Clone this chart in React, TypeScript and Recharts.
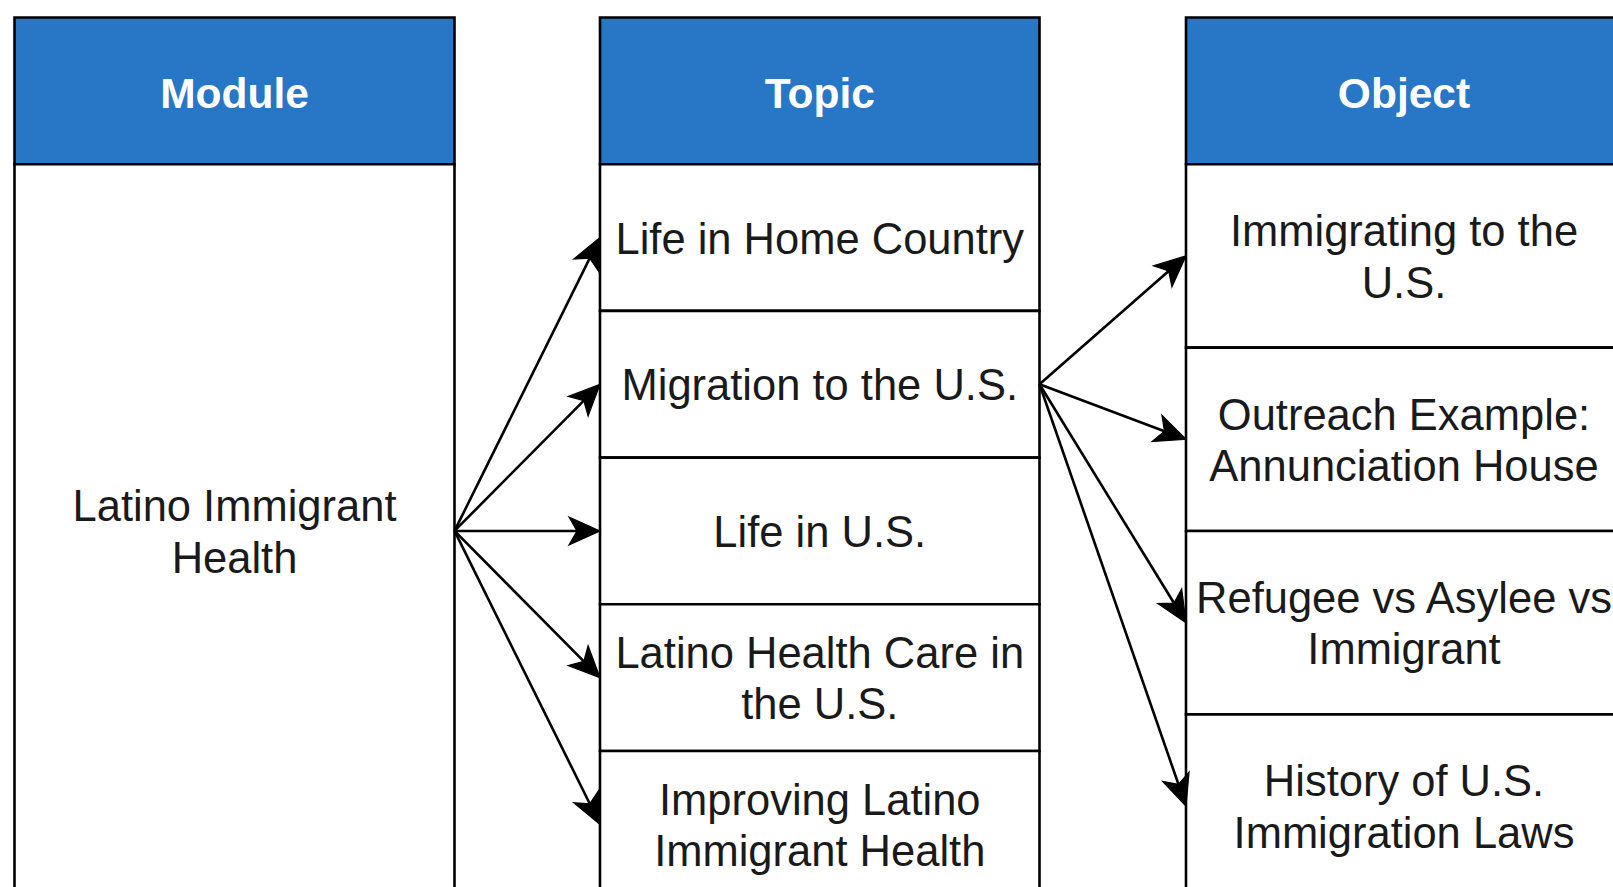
import React from "react";
import {
  ComposedChart,
  XAxis,
  YAxis,
  ReferenceArea,
  ReferenceLine,
  Scatter,
} from "recharts";

// ---------------- data ----------------
const columnTitles = ["Module", "Topic", "Object"];
const moduleLabels = [["Latino Immigrant", "Health"]];
const topicLabels = [
  ["Life in Home Country"],
  ["Migration to the U.S."],
  ["Life in U.S."],
  ["Latino Health Care in", "the U.S."],
  ["Improving Latino", "Immigrant Health"],
];
const objectLabels = [
  ["Immigrating to the", "U.S."],
  ["Outreach Example:", "Annunciation House"],
  ["Refugee vs Asylee vs", "Immigrant"],
  ["History of U.S.", "Immigration Laws"],
];
// links: [source index, target index]
const moduleTopicLinks = [
  [0, 0],
  [0, 1],
  [0, 2],
  [0, 3],
  [0, 4],
];
const topicObjectLinks = [
  [1, 0],
  [1, 1],
  [1, 2],
  [1, 3],
];

// ---------------- layout / style ----------------
const W = 1613;
const H = 887;
const TOP = 17.5;
const ROW = 146.7;
const BODY_ROWS = 5;
const COL_X = [14.5, 600, 1186];
const COL_W = [440, 439.5, 436];
const HEADER_BLUE = "#2876C6";
const FONT = "'Liberation Sans', Arial, Helvetica, sans-serif";
const BODY_SIZE = 43.5;
const HEAD_SIZE = 42.5;
const LINE_H = 51.5;
const BORDER = 2.6;
const ARROW_W = 2.6;
const HEAD_L = 31;
const HEAD_HW = 14;
const HEAD_NOTCH = 23;

type Cell = { x1: number; x2: number; y1: number; y2: number };

const cellsFor = (col: number, count: number): Cell[] => {
  const top = TOP + ROW;
  const h = (ROW * BODY_ROWS) / count;
  return Array.from({ length: count }, (_, i) => ({
    x1: COL_X[col],
    x2: COL_X[col] + COL_W[col],
    y1: top + h * i,
    y2: top + h * (i + 1),
  }));
};

const headerCell = (col: number): Cell => ({
  x1: COL_X[col],
  x2: COL_X[col] + COL_W[col],
  y1: TOP,
  y2: TOP + ROW,
});

const columns = [moduleLabels, topicLabels, objectLabels];
const columnCells = columns.map((labels, c) => cellsFor(c, labels.length));

const makeLabel =
  (lines: string[], size: number, color: string, weight: string, shift: number) =>
  (props: any) => {
    const vb = props.viewBox || {};
    const cx = vb.x + vb.width / 2;
    const cy = vb.y + vb.height / 2;
    const n = lines.length;
    return (
      <text
        textAnchor="middle"
        fontFamily={FONT}
        fontSize={size}
        fontWeight={weight}
        fill={color}
      >
        {lines.map((l, i) => (
          <tspan
            key={i}
            x={cx}
            y={cy + (i - (n - 1) / 2) * LINE_H + size * shift}
          >
            {l}
          </tspan>
        ))}
      </text>
    );
  };

type Arrow = { sx: number; sy: number; tx: number; ty: number; ex: number; ey: number; x: number; y: number };

const buildArrows = (srcCol: number, dstCol: number, links: number[][]): Arrow[] =>
  links.map(([s, t]) => {
    const sc = columnCells[srcCol][s];
    const tc = columnCells[dstCol][t];
    const sx = sc.x2;
    const sy = (sc.y1 + sc.y2) / 2;
    const tx = tc.x1;
    const ty = (tc.y1 + tc.y2) / 2;
    const len = Math.hypot(tx - sx, ty - sy);
    const ex = tx - ((tx - sx) / len) * HEAD_NOTCH;
    const ey = ty - ((ty - sy) / len) * HEAD_NOTCH;
    return { sx, sy, tx, ty, ex, ey, x: tx, y: ty };
  });

const arrows = [
  ...buildArrows(0, 1, moduleTopicLinks),
  ...buildArrows(1, 2, topicObjectLinks),
];

const ArrowHead = (props: any) => {
  const { cx, cy, payload } = props;
  const ang = (Math.atan2(payload.ty - payload.sy, payload.tx - payload.sx) * 180) / Math.PI;
  return (
    <path
      d={`M0,0 L${-HEAD_L},${-HEAD_HW} L${-HEAD_NOTCH},0 L${-HEAD_L},${HEAD_HW} Z`}
      transform={`translate(${cx},${cy}) rotate(${ang})`}
      fill="#000"
      stroke="#000"
      strokeWidth={1.2}
    />
  );
};

export default function App() {
  return (
    <div
      style={{
        position: "absolute",
        left: 0,
        top: 0,
        width: W,
        height: H,
        background: "#fff",
        overflow: "hidden",
      }}
    >
      <ComposedChart
        width={W}
        height={H}
        margin={{ top: 0, right: 0, bottom: 0, left: 0 }}
        data={arrows}
      >
        <XAxis type="number" dataKey="x" domain={[0, W]} hide allowDataOverflow />
        <YAxis type="number" dataKey="y" domain={[0, H]} reversed hide allowDataOverflow />

        {columnTitles.map((t, c) => {
          const r = headerCell(c);
          return (
            <ReferenceArea
              key={`h${c}`}
              x1={r.x1}
              x2={r.x2}
              y1={r.y1}
              y2={r.y2}
              fill={HEADER_BLUE}
              fillOpacity={1}
              stroke="#000"
              strokeWidth={BORDER}
              ifOverflow="visible"
              label={makeLabel([t], HEAD_SIZE, "#ffffff", "bold", 0.4)}
            />
          );
        })}

        {columns.map((labels, c) =>
          labels.map((lines, i) => {
            const r = columnCells[c][i];
            return (
              <ReferenceArea
                key={`b${c}-${i}`}
                x1={r.x1}
                x2={r.x2}
                y1={r.y1}
                y2={r.y2}
                fill="#ffffff"
                fillOpacity={1}
                stroke="#000"
                strokeWidth={BORDER}
                ifOverflow="visible"
                label={makeLabel(lines, BODY_SIZE, "#1a1a1a", "normal", 0.37)}
              />
            );
          })
        )}

        {arrows.map((a, i) => (
          <ReferenceLine
            key={`a${i}`}
            segment={[
              { x: a.sx, y: a.sy },
              { x: a.ex, y: a.ey },
            ]}
            stroke="#000"
            strokeWidth={ARROW_W}
            ifOverflow="visible"
          />
        ))}

        <Scatter
          data={arrows}
          dataKey="y"
          shape={ArrowHead}
          isAnimationActive={false}
        />
      </ComposedChart>
    </div>
  );
}
